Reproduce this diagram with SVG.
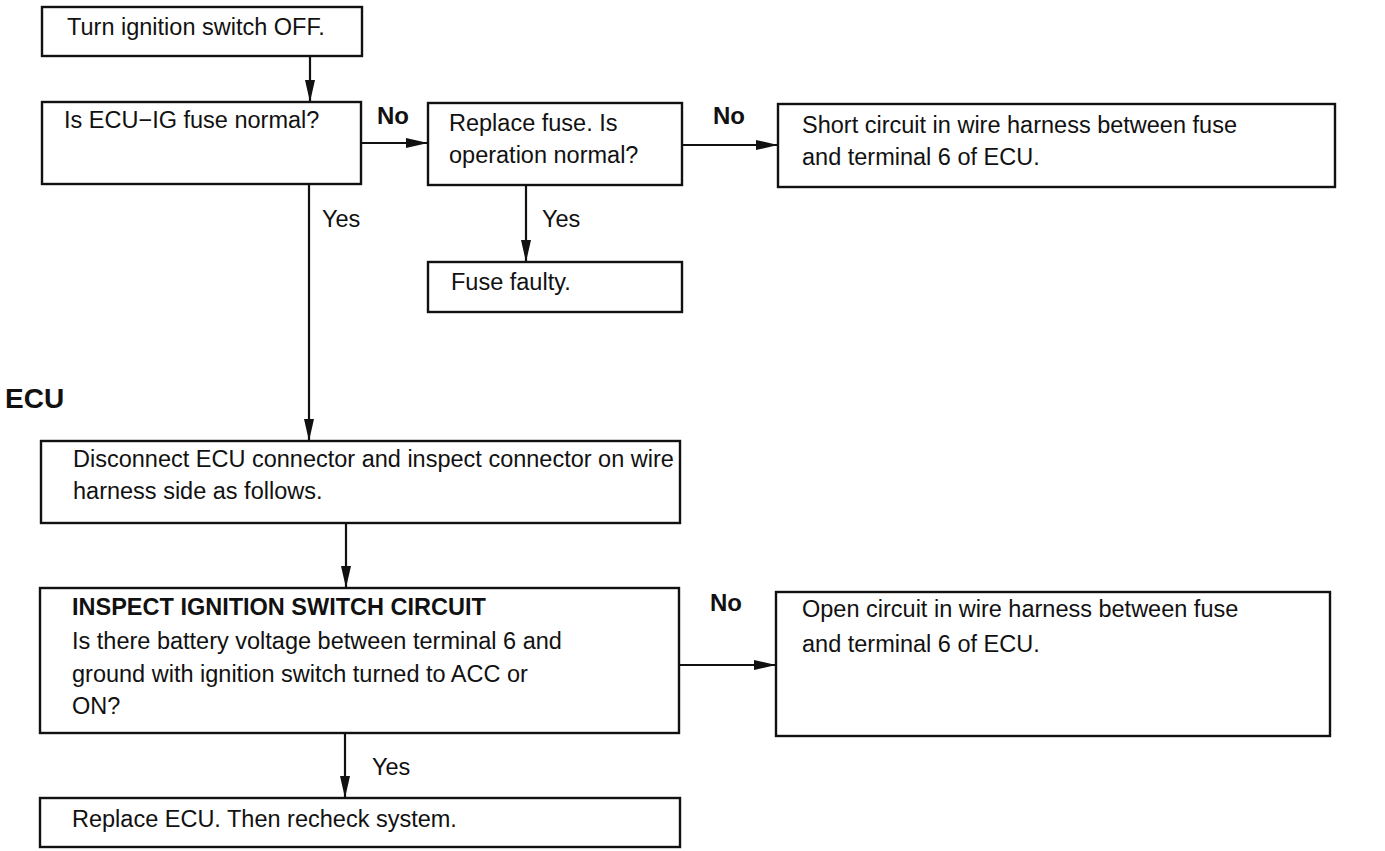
<svg xmlns="http://www.w3.org/2000/svg" width="1385" height="851" viewBox="0 0 1385 851">
<style>
.box{fill:#fff;stroke:#111;stroke-width:2.4}
.t{font-family:"Liberation Sans",Arial,sans-serif;font-size:23.5px;fill:#111}
.b{font-family:"Liberation Sans",Arial,sans-serif;font-size:23.5px;font-weight:bold;fill:#111}
.lbl{font-family:"Liberation Sans",Arial,sans-serif;font-size:24px;font-weight:bold;fill:#111}
.ln{stroke:#111;stroke-width:2.2;fill:none;marker-end:url(#ah)}
</style>
<defs>
<marker id="ah" viewBox="0 0 22 10" refX="22" refY="5" markerWidth="22" markerHeight="10" markerUnits="userSpaceOnUse" orient="auto">
<path d="M0,0 L22,5 L0,10 Z" fill="#111"/>
</marker>
</defs>
<rect width="1385" height="851" fill="#fff"/>
<g id="connectors">
<line class="ln" x1="310" y1="56" x2="310" y2="102"/>
<line class="ln" x1="361" y1="143" x2="428" y2="143"/>
<line class="ln" x1="682" y1="145" x2="778" y2="145"/>
<line class="ln" x1="526" y1="185" x2="526" y2="262"/>
<line class="ln" x1="309" y1="184" x2="309" y2="441"/>
<line class="ln" x1="346" y1="523" x2="346" y2="588"/>
<line class="ln" x1="679" y1="665" x2="776" y2="665"/>
<line class="ln" x1="345" y1="733" x2="345" y2="798"/>
<text class="lbl" x="377" y="124">No</text>
<text class="lbl" x="713" y="124">No</text>
<text class="t" x="542" y="227">Yes</text>
<text class="t" x="322" y="227">Yes</text>
<text class="lbl" x="710" y="611">No</text>
<text class="t" x="372" y="775">Yes</text>
</g>
<text id="ecu-label" x="5" y="408" font-family="Liberation Sans, Arial, sans-serif" font-size="28" font-weight="bold" fill="#111">ECU</text>
<g id="n1"><rect class="box" x="42" y="7" width="320" height="49"/><text class="t" x="67" y="35">Turn ignition switch OFF.</text></g>
<g id="n2"><rect class="box" x="42" y="102" width="319" height="82"/><text class="t" x="64" y="128">Is ECU−IG fuse normal?</text></g>
<g id="n3"><rect class="box" x="428" y="103" width="254" height="82"/><text class="t" x="449" y="131">Replace fuse. Is</text><text class="t" x="449" y="163">operation normal?</text></g>
<g id="n4"><rect class="box" x="778" y="104" width="557" height="83"/><text class="t" x="802" y="133">Short circuit in wire harness between fuse</text><text class="t" x="802" y="165">and terminal 6 of ECU.</text></g>
<g id="n5"><rect class="box" x="428" y="262" width="254" height="50"/><text class="t" x="451" y="290">Fuse faulty.</text></g>
<g id="n6"><rect class="box" x="41" y="441" width="639" height="82" style="fill:none"/><text class="t" x="73" y="467">Disconnect ECU connector and inspect connector on wire</text><text class="t" x="73" y="499">harness side as follows.</text></g>
<g id="n7"><rect class="box" x="40" y="588" width="639" height="145"/><text class="b" x="72" y="615">INSPECT IGNITION SWITCH CIRCUIT</text><text class="t" x="72" y="649">Is there battery voltage between terminal 6 and</text><text class="t" x="72" y="682">ground with ignition switch turned to ACC or</text><text class="t" x="72" y="714">ON?</text></g>
<g id="n8"><rect class="box" x="776" y="592" width="554" height="144"/><text class="t" x="802" y="617">Open circuit in wire harness between fuse</text><text class="t" x="802" y="652">and terminal 6 of ECU.</text></g>
<g id="n9"><rect class="box" x="40" y="798" width="640" height="49"/><text class="t" x="72" y="827">Replace ECU. Then recheck system.</text></g>
</svg>
